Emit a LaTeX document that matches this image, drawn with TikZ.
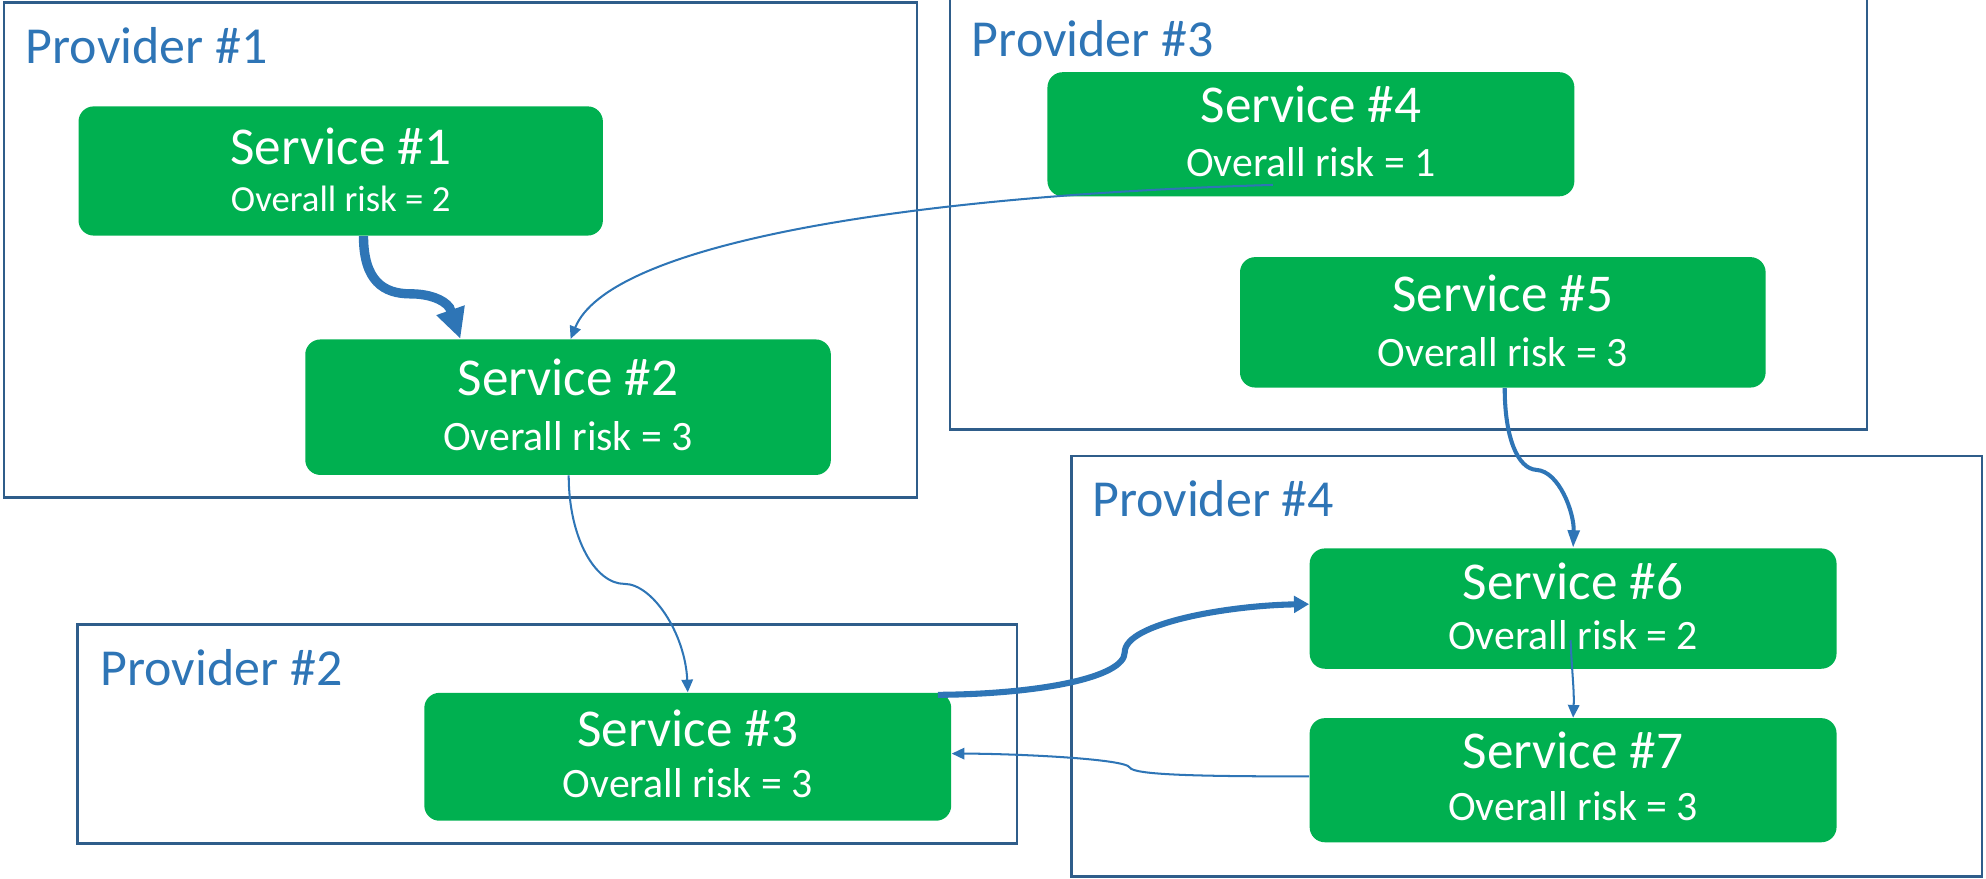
\documentclass[tikz,border=0pt]{standalone}
\usepackage{fontspec}
\setmainfont{Carlito}
\usetikzlibrary{arrows.meta,calc}
\definecolor{svgreen}{HTML}{00B050}
\definecolor{arrblue}{HTML}{2E75B6}
\definecolor{provborder}{HTML}{2F5D8A}
\tikzset{
  provbox/.style={draw=provborder, line width=1pt},
  provlabel/.style={anchor=base west, inner sep=0pt, text=arrblue, font=\fontsize{20.5}{24}\selectfont},
  svcbox/.style={fill=svgreen, draw=none, rounded corners=6pt, inner sep=0pt},
  svctitle/.style={anchor=base, inner sep=0pt, text=white, font=\fontsize{21}{25}\selectfont},
  svcrisk/.style={anchor=base, inner sep=0pt, text=white, font=\fontsize{16.5}{20}\selectfont},
  svcrisksmall/.style={svcrisk, font=\fontsize{14.5}{17}\selectfont},
  thinarr/.style={draw=arrblue, line width=0.8pt, -{Triangle[length=5pt,width=4.5pt]}},
  medarr/.style={draw=arrblue, line width=1.6pt, -{Triangle[length=7pt,width=4.5pt]}},
  bigarr/.style={draw=arrblue, line width=2.4pt, -{Triangle[length=6pt,width=6.5pt]}},
  hugearr/.style={draw=arrblue, line width=3.7pt, -{Triangle[length=12pt,width=11pt]}},
}
\begin{document}
\begin{tikzpicture}[x=0.5pt,y=-0.5pt]
\useasboundingbox (0,0) rectangle (1568,694);
% providers
\draw[provbox] (3,2) rectangle (724,393);
\node[provlabel] (p1) at (20,50) {Provider \#1};
\draw[provbox] (750,-2) rectangle (1474,339);
\node[provlabel] (p3) at (767,45) {Provider \#3};
\draw[provbox] (61,493) rectangle (803,666);
\node[provlabel] (p2) at (79,541) {Provider \#2};
\draw[provbox] (846,360) rectangle (1565,692);
\node[provlabel] (p4) at (862,408) {Provider \#4};
% services
\node[svcbox, minimum width=207pt, minimum height=51pt] (s1) at (269,135) {};
\node[svctitle] (s1t) at (269,130) {Service \#1};
\node[svcrisksmall] (s1r) at (269,167) {Overall risk = 2};
\node[svcbox, minimum width=207.5pt, minimum height=53.5pt] (s2) at (448.5,321.5) {};
\node[svctitle] (s2t) at (448.5,312) {Service \#2};
\node[svcrisk] (s2r) at (448.5,356) {Overall risk = 3};
\node[svcbox, minimum width=208pt, minimum height=49pt] (s4) at (1035,106) {};
\node[svctitle] (s4t) at (1035,97) {Service \#4};
\node[svcrisk] (s4r) at (1035,139) {Overall risk = 1};
\node[svcbox, minimum width=207.5pt, minimum height=51.5pt] (s5) at (1186.5,254.5) {};
\node[svctitle] (s5t) at (1186.5,246) {Service \#5};
\node[svcrisk] (s5r) at (1186.5,289) {Overall risk = 3};
\node[svcbox, minimum width=208pt, minimum height=50.5pt] (s3) at (543,597.5) {};
\node[svctitle] (s3t) at (543,589) {Service \#3};
\node[svcrisk] (s3r) at (543,630) {Overall risk = 3};
\node[svcbox, minimum width=208pt, minimum height=47.5pt] (s6) at (1242,480.5) {};
\node[svctitle] (s6t) at (1242,473) {Service \#6};
\node[svcrisk] (s6r) at (1242,513) {Overall risk = 2};
\node[svcbox, minimum width=208pt, minimum height=49pt] (s7) at (1242,616) {};
\node[svctitle] (s7t) at (1242,607) {Service \#7};
\node[svcrisk] (s7r) at (1242,648) {Overall risk = 3};
% connectors
\draw[hugearr] ($(s1.south)+(18,0)$) .. controls (287,222) and (303,232) .. (324,232)
  .. controls (338,232) and (350,236) .. (355,243) -- ($(s2.north)+(-85,0)$);
\draw[thinarr] ($(s4.center)+(-30,40)$) .. controls (700,155) and (480,195) .. ($(s2.north)+(2,0)$);
\draw[thinarr] ($(s2.south)+(0.5,0)$) .. controls (449,425) and (470,461) .. (493,461)
  .. controls (515,461) and (541,500) .. (s3.north);
\draw[medarr] ($(s5.south)+(1.5,0)$) .. controls (1188,345) and (1198,370) .. (1213,371)
  .. controls (1231,372) and (1243,405) .. (s6.north);
\draw[bigarr] ($(s3.north east)+(-11,2)$) .. controls (820,548) and (888,535) .. (888,515)
  .. controls (888,492) and (970,478) .. ($(s6.west)+(0,-3.5)$);
\draw[thinarr] ($(s6.center)+(-2,25)$) .. controls (1241,530) and (1243,545) .. (s7.north);
\draw[thinarr] ($(s7.west)+(0,-3)$) .. controls (950,613) and (895,612) .. (892,606)
  .. controls (889,599) and (800,595) .. ($(s3.east)+(0,-2.5)$);
\end{tikzpicture}
\end{document}
